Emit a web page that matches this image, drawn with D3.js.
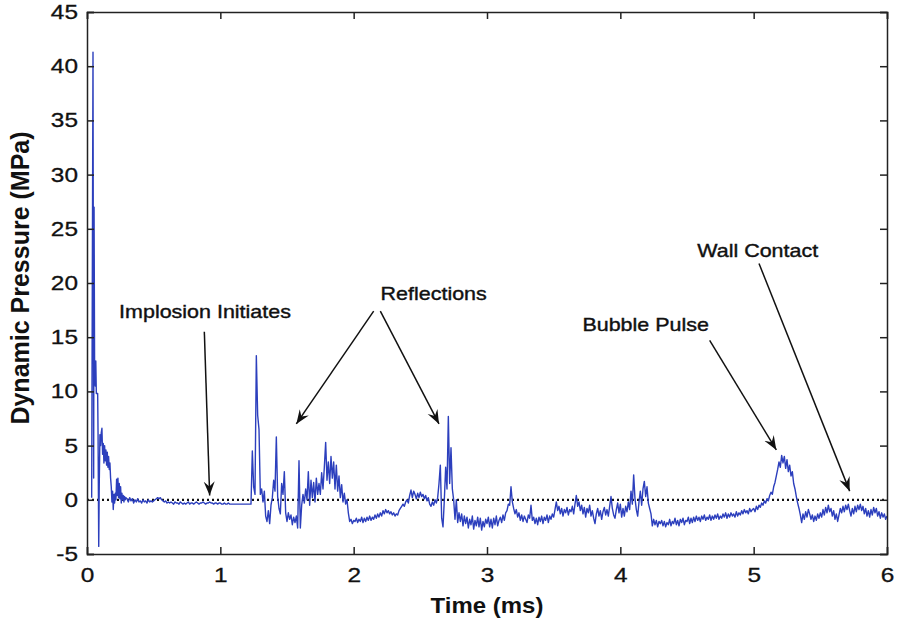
<!DOCTYPE html>
<html><head><meta charset="utf-8">
<script src="https://cdn.jsdelivr.net/npm/d3@7"></script>
<style>
html,body{margin:0;padding:0;background:#fff;}
text{font-family:"Liberation Sans",Arial,sans-serif;}
</style></head>
<body><svg id="c" width="898" height="622"></svg>
<script>
// ---- data ----
const xTicks = [0, 1, 2, 3, 4, 5, 6];
const yTicks = [-5, 0, 5, 10, 15, 20, 25, 30, 35, 40, 45];

// initial shock (explicit sample times, ms)
const shockTimes = [0.035, 0.045, 0.05, 0.053, 0.057, 0.062, 0.066, 0.07, 0.08, 0.083, 0.088, 0.092, 0.097, 0.102, 0.107, 0.112, 0.117, 0.122, 0.127, 0.132, 0.137, 0.142, 0.147, 0.152, 0.157, 0.162, 0.167, 0.172, 0.177, 0.182, 0.187, 0.192, 0.197, 0.202, 0.207, 0.212, 0.217, 0.222, 0.227, 0.232, 0.237, 0.242, 0.247, 0.252, 0.257, 0.262, 0.267, 0.272, 0.277, 0.282, 0.287, 0.292];
const shockValues = [0.2, 41.3, 2.0, 27.0, 12.6, 10.5, 12.8, 9.8, 9.8, 6.0, -4.3, 1.5, 6.0, 5.0, 6.2, 6.6, 4.2, 5.2, 3.4, 5.0, 3.6, 4.6, 3.2, 4.4, 3.0, 4.0, 2.8, 3.4, 2.0, 1.2, -0.2, 0.8, -0.9, 0.5, -0.3, 0.6, 0.0, 1.9, 0.4, 2.0, 0.2, 1.5, 0.1, 1.2, -0.3, 0.6, 0.0, 0.4, -0.2, 0.3, 0.0, 0.2];

// rest of the record, sampled every 0.01 ms from 0.30 ms
const traceStartMs = 0.30;
const traceStepMs = 0.01;
const traceValues = [
  0.1, -0.2, 0.2, -0.1, 0.1, -0.3, 0.0, -0.2, 0.1, -0.2,
  -0.1, -0.3, 0.0, -0.2, -0.1, -0.3, 0.0, -0.2, -0.1, -0.2,
  -0.1, 0.0, 0.1, 0.2, 0.1, 0.2, 0.0, -0.1, -0.2, -0.1,
  -0.3, -0.2, -0.3, -0.2, -0.3, -0.4, -0.2, -0.3, -0.3, -0.4,
  -0.2, -0.3, -0.4, -0.3, -0.4, -0.3, -0.2, -0.4, -0.3, -0.3,
  -0.4, -0.3, -0.2, -0.3, -0.4, -0.3, -0.3, -0.2, -0.3, -0.4,
  -0.3, -0.3, -0.2, -0.3, -0.3, -0.4, -0.3, -0.3, -0.4, -0.3,
  -0.3, -0.4, -0.4, -0.3, -0.4, -0.4, -0.3, -0.4, -0.4, -0.4,
  -0.4, -0.4, -0.4, -0.4, -0.4, -0.4, -0.4, -0.4, -0.4, -0.4,
  -0.4, -0.4, -0.4, -0.4, 4.5, 1.2, 0.5, 13.3, 7.8, 6.5,
  0.5, 1.0, -0.2, 0.8, -1.5, -2.0, -1.0, -2.2, -0.5, 0.2,
  1.8, 0.8, 5.8, 0.3, -0.8, -1.3, 1.5, 0.5, 2.6, -1.2,
  -2.0, -1.2, -1.8, -1.4, -2.3, -1.6, -2.1, -1.5, -2.6, 3.6,
  -2.6, -0.5, 0.5, -0.3, 1.0, 0.0, 2.6, -0.5, 1.8, 0.2,
  1.6, -0.2, 2.0, 0.5, 1.5, 0.5, 2.5, 1.0, 3.0, 5.3,
  1.8, 3.5, 1.5, 4.0, 2.0, 3.5, 1.0, 3.2, 0.8, 2.2,
  0.2, 1.4, -0.2, 0.6, -0.4, 0.0, -1.2, -2.0, -1.8, -2.2,
  -1.9, -2.0, -1.7, -2.1, -1.8, -2.0, -1.6, -2.1, -1.7, -2.0,
  -1.6, -1.9, -1.5, -1.9, -1.6, -1.8, -1.4, -1.7, -1.3, -1.6,
  -1.2, -1.5, -1.0, -1.3, -0.9, -1.2, -1.0, -1.3, -1.1, -1.4,
  -1.2, -1.5, -1.3, -1.4, -1.0, -0.8, -0.6, -0.4, -0.6, -0.2,
  0.0, -0.3, 0.4, 0.9, 0.2, 0.8, 0.5, 0.1, 0.6, 0.2,
  0.7, 0.3, 0.5, 0.1, 0.4, -0.1, 0.2, -0.4, -0.6, -0.2,
  -0.5, 0.0, -0.3, 0.2, 1.5, 3.2, -1.7, -2.5, 0.0, 3.0,
  1.0, 7.7, 1.5, 4.8, 1.0, 0.0, -1.8, 0.0, -2.1, -1.2,
  -2.0, -1.3, -2.4, -1.5, -2.2, -1.6, -2.6, -1.8, -2.3, -1.5,
  -2.7, -1.9, -2.4, -1.6, -2.5, -1.7, -2.8, -2.0, -2.5, -1.8,
  -2.2, -1.6, -2.5, -1.8, -2.6, -1.7, -2.3, -1.5, -2.4, -1.9,
  -1.6, -2.1, -1.4, -1.9, -1.2, -1.0, -0.4, -0.5, 1.2, -0.2,
  -0.8, -1.3, -0.9, -1.6, -1.2, -1.9, -1.4, -2.0, -1.5, -1.8,
  -2.1, -1.4, -1.7, -0.5, -1.9, -1.6, -2.2, -1.7, -2.3, -1.6,
  -2.0, -1.5, -2.2, -1.6, -1.9, -1.4, -2.1, -1.5, -1.8, -1.3,
  -1.6, -0.9, -0.2, -1.0, -0.6, -1.3, -0.8, -1.5, -0.9, -1.2,
  -0.7, -1.4, -0.9, -1.1, -0.6, -1.3, -0.4, 0.4, -0.6, -0.2,
  -1.0, -0.5, -1.3, -0.7, -1.6, -0.8, -1.2, -0.5, -1.5, -1.0,
  -1.7, -2.2, -1.3, -0.8, -1.5, -1.0, -1.8, -1.1, -0.7, -1.4,
  -0.9, -1.5, -0.6, 0.3, -0.8, -1.4, -1.7, -0.9, -0.3, -1.2,
  -0.4, -1.6, -0.8, -1.5, -0.6, -1.1, -0.2, -0.9, 0.8, -0.4,
  2.3, 0.1, -0.9, -1.5, -0.2, 0.8, -0.5, 1.0, 1.7, 0.3,
  1.2, -0.3, -0.8, -1.3, -2.4, -1.8, -2.3, -1.9, -2.5, -2.0,
  -2.2, -1.9, -2.4, -2.0, -2.5, -2.1, -2.3, -1.8, -2.4, -2.0,
  -2.2, -1.7, -2.3, -1.9, -2.4, -1.8, -2.1, -1.7, -2.3, -1.9,
  -2.0, -1.6, -2.2, -1.7, -2.1, -1.6, -2.0, -1.5, -1.9, -1.6,
  -2.0, -1.5, -1.8, -1.4, -1.9, -1.6, -1.8, -1.4, -1.9, -1.5,
  -1.8, -1.4, -1.7, -1.3, -1.8, -1.5, -1.7, -1.3, -1.6, -1.2,
  -1.7, -1.3, -1.6, -1.2, -1.5, -1.3, -1.6, -1.1, -1.5, -1.2,
  -1.4, -1.0, -1.3, -0.9, -1.2, -1.0, -1.3, -0.8, -1.1, -0.9,
  -0.8, -1.1, -0.6, -0.9, -0.5, -0.7, -0.3, -0.5, -0.1, -0.3,
  0.1, -0.1, 0.4, 0.7, 0.5, 1.2, 1.6, 2.2, 2.8, 3.5,
  3.0, 4.1, 3.4, 4.0, 2.9, 3.7, 2.6, 3.2, 2.2, 2.6,
  1.5, 1.0, 0.3, -0.3, -0.8, -1.4, -2.1, -1.3, -1.8, -1.1,
  -1.6, -0.9, -1.3, -1.8, -1.4, -2.0, -1.5, -1.9, -1.3, -1.7,
  -1.2, -1.6, -0.9, -1.4, -0.7, -1.2, -0.5, -1.1, -0.8, -1.5,
  -1.0, -1.8, -1.3, -2.0, -1.4, -0.8, -1.2, -0.6, -1.1, -0.5,
  -0.9, -0.4, -1.0, -1.5, -0.8, -1.3, -0.6, -1.1, -0.5, -0.9,
  -0.4, -1.0, -0.6, -1.3, -0.8, -1.5, -1.0, -1.6, -0.9, -1.4,
  -0.7, -1.2, -0.8, -1.5, -1.1, -1.7, -1.2, -1.6, -1.3, -1.8, -1.5
];

const annotations = [
  {label: "Implosion Initiates", tx: 0.885, ty: 16.8, arrows: [[0.88, 15.5, 0.92, 0.4]]},
  {label: "Reflections", tx: 2.6, ty: 18.4, arrows: [[2.15, 17.4, 1.57, 7.0], [2.2, 17.4, 2.64, 7.0]]},
  {label: "Bubble Pulse", tx: 4.19, ty: 15.6, arrows: [[4.67, 14.7, 5.17, 4.6]]},
  {label: "Wall Contact", tx: 5.03, ty: 22.4, arrows: [[5.04, 21.8, 5.72, 0.8]]}
];

// ---- chart ----
const W = 898, H = 622;
const m = {left: 87, top: 12, right: 11, bottom: 68};
const svg = d3.select("#c");
const x = d3.scaleLinear().domain([0, 6]).range([m.left, W - m.right]);
const y = d3.scaleLinear().domain([-5, 45]).range([H - m.bottom, m.top]);

const points = shockTimes.map((t, i) => [t, shockValues[i]])
  .concat(traceValues.map((v, i) => [traceStartMs + i * traceStepMs, v]));

// zero dotted line
svg.append("line").attr("x1", x(0)).attr("x2", x(6)).attr("y1", y(0)).attr("y2", y(0))
  .attr("stroke", "#111").attr("stroke-width", 2.2).attr("stroke-dasharray", "2,3");

svg.append("path").datum(points)
  .attr("d", d3.line().x(d => x(d[0])).y(d => y(d[1])))
  .attr("fill", "none").attr("stroke", "#2c3fbd").attr("stroke-width", 1.4).attr("stroke-linejoin", "round");

// axes (inward ticks, mirrored)
const tickLen = 7;
const gB = svg.append("g").attr("transform", `translate(0,${y(-5)})`)
  .call(d3.axisBottom(x).tickValues(xTicks).tickSize(-tickLen).tickPadding(14).tickFormat(d => String(d)));
const gT = svg.append("g").attr("transform", `translate(0,${y(45)})`)
  .call(d3.axisTop(x).tickValues(xTicks).tickSize(-tickLen).tickFormat(""));
const gL = svg.append("g").attr("transform", `translate(${x(0)},0)`)
  .call(d3.axisLeft(y).tickValues(yTicks).tickSize(-tickLen).tickPadding(9).tickFormat(d => String(d)));
const gR = svg.append("g").attr("transform", `translate(${x(6)},0)`)
  .call(d3.axisRight(y).tickValues(yTicks).tickSize(-tickLen).tickFormat(""));
[gB, gT, gL, gR].forEach(g => {
  g.select(".domain").attr("stroke", "#222").attr("stroke-width", 1.5);
  g.selectAll(".tick line").attr("stroke", "#222").attr("stroke-width", 1.5);
  g.selectAll("text").attr("font-size", "20px").attr("fill", "#111")
    .attr("stroke", "#111").attr("stroke-width", 0.3)
    .attr("font-family", "'Liberation Sans', Arial, sans-serif")
    .each(function() {
      const t = d3.select(this);
      const tx = +t.attr("x") || 0;
      t.attr("x", 0).attr("transform", `translate(${tx},0) scale(1.22,1)`);
    });
});

svg.append("text").attr("transform", `translate(${x(3)},613) scale(1.09,1)`).attr("text-anchor", "middle")
  .attr("font-size", "22px").attr("font-weight", "bold").attr("fill", "#111").text("Time (ms)");
svg.append("text").attr("transform", `translate(29,278) rotate(-90)`)
  .attr("text-anchor", "middle").attr("font-size", "25px").attr("font-weight", "bold").attr("fill", "#111")
  .text("Dynamic Pressure (MPa)");

// arrowhead marker
svg.append("defs").append("marker").attr("id", "ah")
  .attr("viewBox", "-14 -6 16 12").attr("refX", 0).attr("refY", 0)
  .attr("markerWidth", 16).attr("markerHeight", 12).attr("markerUnits", "userSpaceOnUse")
  .attr("orient", "auto")
  .append("path").attr("d", "M0,0 L-14,-5.5 L-9,0 L-14,5.5 Z").attr("fill", "#111");

annotations.forEach(a => {
  svg.append("text").attr("transform", `translate(${x(a.tx)},${y(a.ty)}) scale(1.13,1)`)
    .attr("text-anchor", "middle")
    .attr("font-size", "19px").attr("fill", "#111").attr("stroke", "#111").attr("stroke-width", 0.4)
    .text(a.label);
  a.arrows.forEach(r => {
    svg.append("line").attr("x1", x(r[0])).attr("y1", y(r[1])).attr("x2", x(r[2])).attr("y2", y(r[3]))
      .attr("stroke", "#111").attr("stroke-width", 1.5).attr("marker-end", "url(#ah)");
  });
});
</script></body></html>
